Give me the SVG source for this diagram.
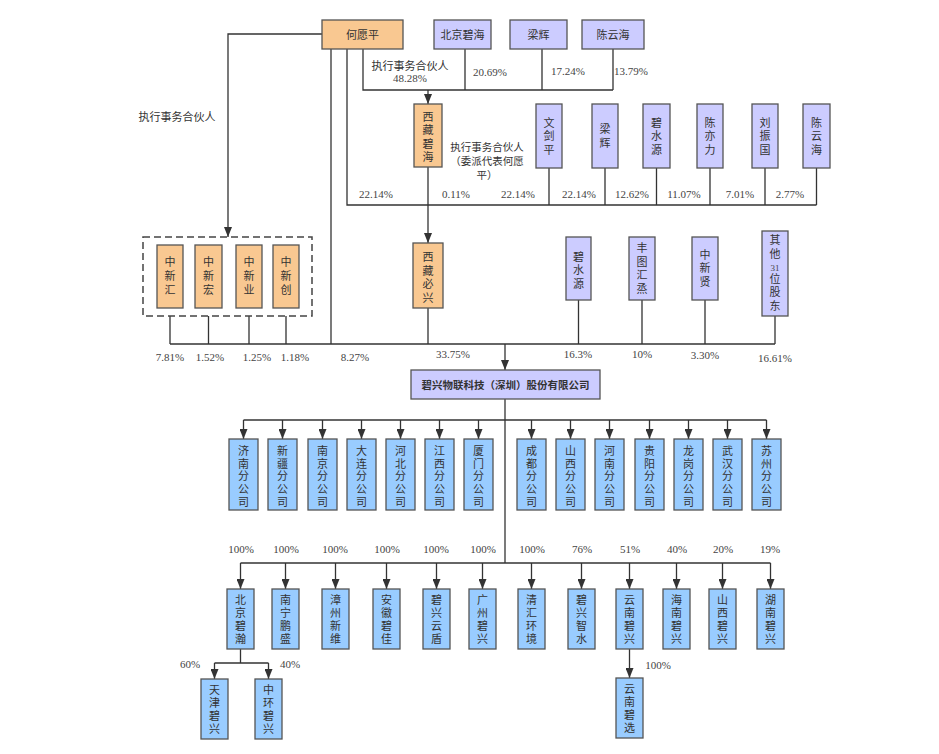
<svg xmlns="http://www.w3.org/2000/svg" width="939" height="754" viewBox="0 0 939 754">
<style>
.o{fill:#F9C891;stroke:#555;stroke-width:1.3}
.p{fill:#CCCCFF;stroke:#555;stroke-width:1.3}
.b{fill:#99CCFF;stroke:#555;stroke-width:1.3}
.t{font-family:"Noto Sans CJK SC","Noto Sans",sans-serif;font-size:11px;fill:#333;text-anchor:middle}
.v{writing-mode:vertical-rl;text-orientation:upright}
.s1{letter-spacing:1.6px}
.s2{letter-spacing:2px}
.s25{letter-spacing:2.5px}
.s3{letter-spacing:3px}
.n{font-family:"Liberation Serif",serif;font-size:11px;fill:#444;text-anchor:middle}
.l{fill:none;stroke:#333;stroke-width:1.3}
.a{marker-end:url(#arr)}
.d{fill:none;stroke:#444;stroke-width:1.5;stroke-dasharray:7,4}
</style>
<defs>
<marker id="arr" markerUnits="userSpaceOnUse" markerWidth="10" markerHeight="8" refX="10" refY="4" orient="auto">
<path d="M0,0 L10,4 L0,8 z" fill="#333"/>
</marker>
</defs>
<rect width="939" height="754" fill="#fff"/>

<g id="connectors">
<path class="l a" d="M322,34 H228 V237"/>
<path class="l" d="M331,49 V344"/>
<path class="l" d="M347,49 V205 H816.5"/>
<path class="l" d="M363,49 V90 H613 M465,49 V90 M542,49 V90 M613,49 V90"/>
<path class="l a" d="M428,90 V104"/>
<path class="l a" d="M428,167 V243"/>
<path class="l" d="M549,168 V205 M605,168 V205 M656.5,168 V205 M710,168 V205 M765,168 V205 M816.5,168 V205"/>
<path class="l" d="M170,316 V344 M208.5,316 V344 M249,316 V344 M286,316 V344"/>
<path class="l" d="M428,308 V344 M578.5,300 V344 M642,300 V344 M705,300 V344 M775,316 V344"/>
<path class="l" d="M170,344 H775"/>
<path class="l a" d="M505,344 V370"/>
<path class="l" d="M505,399 V563"/>
<path class="l" d="M243.5,420 H766.5"/>
<path class="l a" d="M243.5,420 V439"/>
<path class="l a" d="M282.5,420 V439"/>
<path class="l a" d="M322.5,420 V439"/>
<path class="l a" d="M361.5,420 V439"/>
<path class="l a" d="M400.5,420 V439"/>
<path class="l a" d="M439.5,420 V439"/>
<path class="l a" d="M478.5,420 V439"/>
<path class="l a" d="M531.5,420 V439"/>
<path class="l a" d="M570.5,420 V439"/>
<path class="l a" d="M609.5,420 V439"/>
<path class="l a" d="M649.5,420 V439"/>
<path class="l a" d="M688.5,420 V439"/>
<path class="l a" d="M727.5,420 V439"/>
<path class="l a" d="M766.5,420 V439"/>
<path class="l" d="M240.5,563 H770.5"/>
<path class="l a" d="M240.5,563 V589"/>
<path class="l a" d="M285.5,563 V589"/>
<path class="l a" d="M335.5,563 V589"/>
<path class="l a" d="M386.5,563 V589"/>
<path class="l a" d="M436.5,563 V589"/>
<path class="l a" d="M482.5,563 V589"/>
<path class="l a" d="M531.5,563 V589"/>
<path class="l a" d="M581.5,563 V589"/>
<path class="l a" d="M629.5,563 V589"/>
<path class="l a" d="M676.5,563 V589"/>
<path class="l a" d="M722.5,563 V589"/>
<path class="l a" d="M770.5,563 V589"/>
<path class="l" d="M240.5,649 V663 M214.5,663 H268.5"/>
<path class="l a" d="M214.5,663 V679"/>
<path class="l a" d="M268.5,663 V679"/>
<path class="l a" d="M629.5,649 V678"/>
</g>

<g id="labels">
<text class="t" x="177" y="121">执行事务合伙人</text>
<text class="t" x="410" y="70">执行事务合伙人</text>
<text class="n" x="410" y="82">48.28%</text>
<text class="n" x="490" y="76">20.69%</text>
<text class="n" x="568" y="75">17.24%</text>
<text class="n" x="631" y="75">13.79%</text>
<text class="t" x="487" y="151" style="font-size:10.5px">执行事务合伙人</text>
<text class="t" x="487" y="165" style="font-size:10.5px">（委派代表何愿</text>
<text class="t" x="487" y="179" style="font-size:10.5px">平）</text>
<text class="n" x="376" y="198">22.14%</text>
<text class="n" x="456" y="198">0.11%</text>
<text class="n" x="518" y="198">22.14%</text>
<text class="n" x="579" y="198">22.14%</text>
<text class="n" x="632" y="198">12.62%</text>
<text class="n" x="684" y="198">11.07%</text>
<text class="n" x="740" y="198">7.01%</text>
<text class="n" x="790" y="198">2.77%</text>
<text class="n" x="170" y="361">7.81%</text>
<text class="n" x="210" y="361">1.52%</text>
<text class="n" x="257" y="361">1.25%</text>
<text class="n" x="295" y="361">1.18%</text>
<text class="n" x="355" y="361">8.27%</text>
<text class="n" x="453" y="358">33.75%</text>
<text class="n" x="578" y="358">16.3%</text>
<text class="n" x="642" y="358">10%</text>
<text class="n" x="705" y="359">3.30%</text>
<text class="n" x="775" y="362">16.61%</text>
<text class="n" x="241" y="553">100%</text>
<text class="n" x="286" y="553">100%</text>
<text class="n" x="335" y="553">100%</text>
<text class="n" x="387" y="553">100%</text>
<text class="n" x="436" y="553">100%</text>
<text class="n" x="483" y="553">100%</text>
<text class="n" x="532" y="553">100%</text>
<text class="n" x="582" y="553">76%</text>
<text class="n" x="630" y="553">51%</text>
<text class="n" x="677" y="553">40%</text>
<text class="n" x="723" y="553">20%</text>
<text class="n" x="770" y="553">19%</text>
<text class="n" x="190" y="668">60%</text>
<text class="n" x="290" y="668">40%</text>
<text class="n" x="658" y="669">100%</text>
</g>

<g id="n-heyuanping"><rect class="o" x="322" y="20" width="81" height="29"/><text class="t" x="362.5" y="38.5">何愿平</text></g>
<g id="n-bjbh"><rect class="p" x="434" y="20" width="57" height="29"/><text class="t" x="462.5" y="38.5">北京碧海</text></g>
<g id="n-lh1"><rect class="p" x="510" y="20" width="57" height="29"/><text class="t" x="538.5" y="38.5">梁辉</text></g>
<g id="n-cyh1"><rect class="p" x="582" y="20" width="62" height="29"/><text class="t" x="613" y="38.5">陈云海</text></g>

<g id="n-xzbh"><rect class="o" x="414" y="104" width="28" height="63"/><text class="t v s25" x="428" y="138">西藏碧海</text></g>
<g id="n-wjp"><rect class="p" x="536" y="104" width="26" height="64"/><text class="t v s25" x="549" y="137.5">文剑平</text></g>
<g id="n-lh2"><rect class="p" x="592" y="104" width="26" height="64"/><text class="t v s25" x="605" y="137">梁辉</text></g>
<g id="n-bsy1"><rect class="p" x="643" y="104" width="27" height="64"/><text class="t v s25" x="656.5" y="137.5">碧水源</text></g>
<g id="n-cyl"><rect class="p" x="697" y="104" width="26" height="64"/><text class="t v s25" x="710" y="137.5">陈亦力</text></g>
<g id="n-lzg"><rect class="p" x="752" y="104" width="26" height="64"/><text class="t v s25" x="765" y="137.5">刘振国</text></g>
<g id="n-cyh2"><rect class="p" x="803" y="104" width="27" height="64"/><text class="t v s25" x="816.5" y="137.5">陈云海</text></g>

<g id="n-zxgroup">
<rect class="d" x="143" y="237" width="169" height="79"/>
<g id="n-zxh"><rect class="o" x="157" y="245" width="26" height="63"/><text class="t v s3" x="170" y="277.5">中新汇</text></g>
<g id="n-zxhong"><rect class="o" x="195" y="245" width="27" height="63"/><text class="t v s3" x="208.5" y="277.5">中新宏</text></g>
<g id="n-zxy"><rect class="o" x="236" y="245" width="26" height="63"/><text class="t v s3" x="249" y="277.5">中新业</text></g>
<g id="n-zxc"><rect class="o" x="273" y="245" width="26" height="63"/><text class="t v s3" x="286" y="277.5">中新创</text></g>
</g>
<g id="n-xzbx"><rect class="o" x="413" y="243" width="30" height="65"/><text class="t v s25" x="428" y="278.5">西藏必兴</text></g>
<g id="n-bsy2"><rect class="p" x="566" y="237" width="25" height="63"/><text class="t v s25" x="578.5" y="271.5">碧水源</text></g>
<g id="n-ftht"><rect class="p" x="629" y="237" width="26" height="63"/><text class="t v s25" x="642" y="269.5">丰图汇烝</text></g>
<g id="n-zxx"><rect class="p" x="692" y="237" width="26" height="63"/><text class="t v s25" x="705" y="269.5">中新贤</text></g>
<g id="n-qt"><rect class="p" x="762" y="231" width="26" height="85"/><text class="t v s3" x="775" y="248.5">其他</text><text class="n" x="775" y="271" style="font-size:9px">31</text><text class="t v s25" x="775" y="293.5">位股东</text></g>

<g id="n-main"><rect class="p" x="411" y="370" width="189" height="29"/><text class="t" x="505.5" y="388.5" style="font-weight:bold;font-size:10.5px">碧兴物联科技（深圳）股份有限公司</text></g>

<g id="n-jinan"><rect class="b" x="229" y="439" width="29" height="71"/><text class="t v s1" x="243.5" y="477">济南分公司</text></g>
<g id="n-xinjiang"><rect class="b" x="268" y="439" width="29" height="71"/><text class="t v s1" x="282.5" y="477">新疆分公司</text></g>
<g id="n-nanjing"><rect class="b" x="308" y="439" width="29" height="71"/><text class="t v s1" x="322.5" y="477">南京分公司</text></g>
<g id="n-dalian"><rect class="b" x="347" y="439" width="29" height="71"/><text class="t v s1" x="361.5" y="477">大连分公司</text></g>
<g id="n-hebei"><rect class="b" x="386" y="439" width="29" height="71"/><text class="t v s1" x="400.5" y="477">河北分公司</text></g>
<g id="n-jiangxi"><rect class="b" x="425" y="439" width="29" height="71"/><text class="t v s1" x="439.5" y="477">江西分公司</text></g>
<g id="n-xiamen"><rect class="b" x="464" y="439" width="29" height="71"/><text class="t v s1" x="478.5" y="477">厦门分公司</text></g>
<g id="n-chengdu"><rect class="b" x="517" y="439" width="29" height="71"/><text class="t v s1" x="531.5" y="477">成都分公司</text></g>
<g id="n-shanxi"><rect class="b" x="556" y="439" width="29" height="71"/><text class="t v s1" x="570.5" y="477">山西分公司</text></g>
<g id="n-henan"><rect class="b" x="595" y="439" width="29" height="71"/><text class="t v s1" x="609.5" y="477">河南分公司</text></g>
<g id="n-guiyang"><rect class="b" x="635" y="439" width="29" height="71"/><text class="t v s1" x="649.5" y="477">贵阳分公司</text></g>
<g id="n-longgang"><rect class="b" x="674" y="439" width="29" height="71"/><text class="t v s1" x="688.5" y="477">龙岗分公司</text></g>
<g id="n-wuhan"><rect class="b" x="713" y="439" width="29" height="71"/><text class="t v s1" x="727.5" y="477">武汉分公司</text></g>
<g id="n-suzhou"><rect class="b" x="752" y="439" width="29" height="71"/><text class="t v s1" x="766.5" y="477">苏州分公司</text></g>

<g id="n-bjbhan"><rect class="b" x="227" y="589" width="27" height="60"/><text class="t v s2" x="240.5" y="620">北京碧瀚</text></g>
<g id="n-nnps"><rect class="b" x="272" y="589" width="27" height="60"/><text class="t v s2" x="285.5" y="620">南宁鹏盛</text></g>
<g id="n-zzxw"><rect class="b" x="322" y="589" width="27" height="60"/><text class="t v s2" x="335.5" y="620">漳州新维</text></g>
<g id="n-ahbj"><rect class="b" x="373" y="589" width="27" height="60"/><text class="t v s2" x="386.5" y="620">安徽碧佳</text></g>
<g id="n-bxyd"><rect class="b" x="423" y="589" width="27" height="60"/><text class="t v s2" x="436.5" y="620">碧兴云盾</text></g>
<g id="n-gzbx"><rect class="b" x="469" y="589" width="27" height="60"/><text class="t v s2" x="482.5" y="620">广州碧兴</text></g>
<g id="n-qhhj"><rect class="b" x="518" y="589" width="27" height="60"/><text class="t v s2" x="531.5" y="620">清汇环境</text></g>
<g id="n-bxzs"><rect class="b" x="568" y="589" width="27" height="60"/><text class="t v s2" x="581.5" y="620">碧兴智水</text></g>
<g id="n-ynbx"><rect class="b" x="616" y="589" width="27" height="60"/><text class="t v s2" x="629.5" y="620">云南碧兴</text></g>
<g id="n-hnbx"><rect class="b" x="663" y="589" width="27" height="60"/><text class="t v s2" x="676.5" y="620">海南碧兴</text></g>
<g id="n-sxbx"><rect class="b" x="709" y="589" width="27" height="60"/><text class="t v s2" x="722.5" y="620">山西碧兴</text></g>
<g id="n-hunbx"><rect class="b" x="757" y="589" width="27" height="60"/><text class="t v s2" x="770.5" y="620">湖南碧兴</text></g>

<g id="n-tjbx"><rect class="b" x="201" y="679" width="27" height="60"/><text class="t v s2" x="214.5" y="710">天津碧兴</text></g>
<g id="n-zhbx"><rect class="b" x="255" y="679" width="27" height="60"/><text class="t v s2" x="268.5" y="710">中环碧兴</text></g>
<g id="n-ynbxuan"><rect class="b" x="616" y="678" width="27" height="60"/><text class="t v s2" x="629.5" y="709">云南碧选</text></g>
</svg>
